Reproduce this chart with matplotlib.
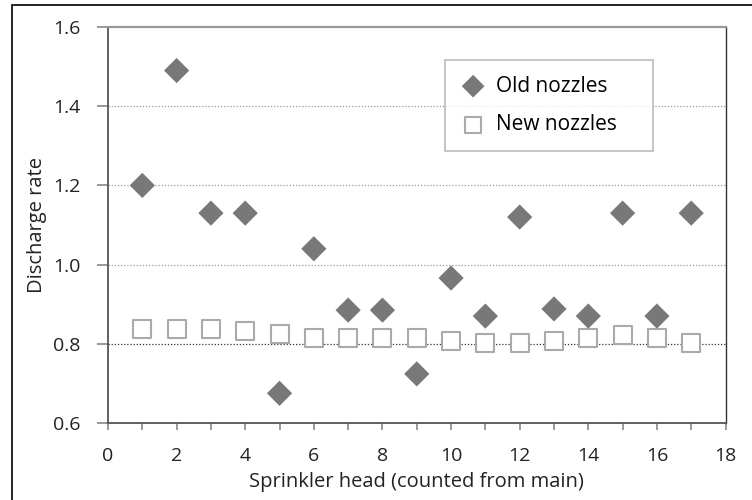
import matplotlib
matplotlib.use("Agg")
import matplotlib.pyplot as plt
from matplotlib.patches import Rectangle

plt.rcParams['font.family'] = ['Open Sans', 'DejaVu Sans']

heads = list(range(1, 18))
old_nozzles = [1.20, 1.49, 1.13, 1.13, 0.675, 1.04, 0.885, 0.885, 0.724, 0.966,
               0.870, 1.12, 0.888, 0.870, 1.13, 0.870, 1.13]
new_nozzles = [0.837, 0.837, 0.837, 0.832, 0.825, 0.815, 0.815, 0.815, 0.815, 0.807,
               0.802, 0.802, 0.807, 0.815, 0.822, 0.815, 0.802]
x_ticks = [0, 2, 4, 6, 8, 10, 12, 14, 16, 18]
y_ticks = [0.6, 0.8, 1.0, 1.2, 1.4, 1.6]

fig = plt.figure(figsize=(7.52, 5.0), dpi=100)
ax = fig.add_axes([108/752, 1 - 423/500, (725.5-108)/752, (423-27)/500])

# outer border (only left/top visible in reference)
fig.patches.append(Rectangle((12/752, -0.1), 1.2, (1 - 5/500) + 0.1,
                             transform=fig.transFigure, fill=False,
                             edgecolor='black', linewidth=1.2, zorder=0))

for yv in [0.8, 1.0, 1.2, 1.4]:
    ax.axhline(yv, color='#333333' if yv == 0.8 else '#999999',
               linestyle=(0, (1, 1.5)), linewidth=0.9, zorder=1)

ax.scatter(heads, old_nozzles, marker='D', s=165, color='#787878',
           edgecolors='none', zorder=3, label='Old nozzles')
ax.scatter(heads, new_nozzles, marker='s', s=180, facecolors='white',
           edgecolors='#aaaaaa', linewidths=1.5, zorder=2, label='New nozzles')

ax.set_xlim(0, 18)
ax.set_ylim(0.6, 1.6)
ax.set_xticks(x_ticks)
ax.set_xticks(range(0, 19), minor=True)
ax.set_yticks(y_ticks)
ax.set_yticklabels([f'{v:.1f}' for v in y_ticks])
ax.tick_params(axis='both', labelsize=14, colors='#222222')
ax.tick_params(axis='x', which='both', direction='out', length=5, width=1.2, color='#888888', pad=12)
ax.tick_params(axis='y', direction='out', length=8, width=1.2, color='#888888', pad=12)

for side in ['left', 'bottom']:
    ax.spines[side].set_color('#555555')
    ax.spines[side].set_linewidth(1.3)
ax.spines['top'].set_color('#999999')
ax.spines['top'].set_linewidth(1.6)
ax.spines['right'].set_color('#333333')
ax.spines['right'].set_linewidth(1.0)

ax.set_xlabel('Sprinkler head (counted from main)', fontsize=14.5, color='#222222', labelpad=5)
ax.set_ylabel('Discharge rate', fontsize=14.5, color='#222222', labelpad=4)

lx0 = (445 - 108) / 617.5
lw = 208 / 617.5
lh = 86 / 396
ly0 = 1 - (60 - 27) / 396 - lh
leg = ax.legend(loc='upper left', bbox_to_anchor=(lx0, ly0, lw, lh), mode='expand',
                fontsize=15, frameon=True, fancybox=False, edgecolor='#aaaaaa',
                handletextpad=0.5, borderpad=0.75, labelspacing=0.85, markerscale=0.9,
                handlelength=1.2, borderaxespad=0)
leg.get_frame().set_linewidth(1.2)

fig.savefig('out.png', dpi=100)
